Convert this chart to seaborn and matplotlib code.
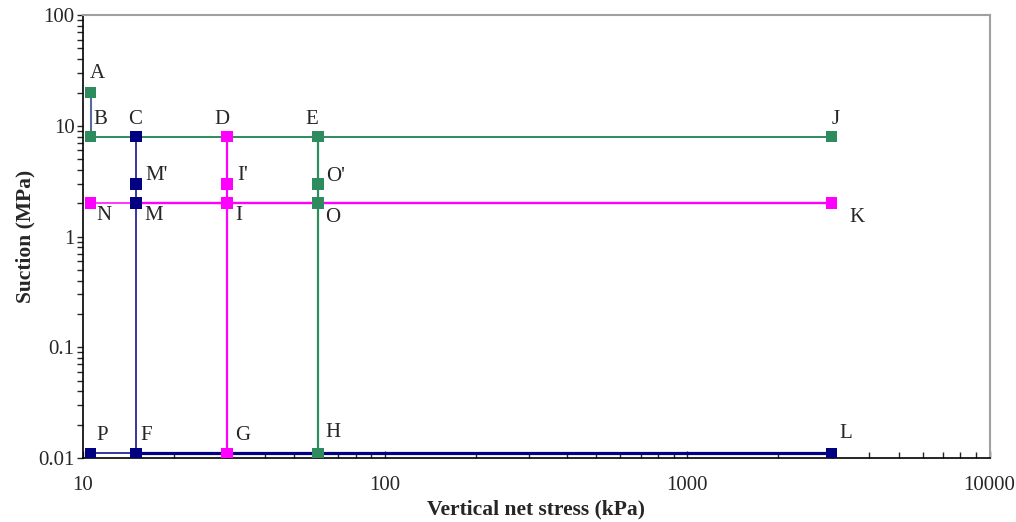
import numpy as np
import pandas as pd
import seaborn as sns
import matplotlib.pyplot as plt

# points (kPa, MPa)
names = ["A", "B", "C", "D", "E", "J", "M'", "M", "I'", "I", "O'", "O", "N", "K", "P", "F", "G", "H", "L"]
stress = [10.6, 10.6, 15, 30, 60, 3000, 15, 15, 30, 30, 60, 60, 10.6, 3000, 10.6, 15, 30, 60, 3000]
suction = [20, 8, 8, 8, 8, 8, 3, 2, 3, 2, 3, 2, 2, 2, 0.011, 0.011, 0.011, 0.011, 0.011]
point_group = ["g", "g", "n", "m", "g", "g", "n", "n", "m", "m", "g", "g", "m", "m", "n", "n", "m", "g", "n"]

# stress paths (point names joined by lines)
paths = [
    (["A", "B"], "s", 1.5),
    (["B", "C", "D", "E", "J"], "g", 1.4),
    (["C", "M'", "M", "F"], "n", 1.1),
    (["D", "I'", "I", "G"], "m", 1.6),
    (["E", "O'", "O", "H"], "g", 1.6),
    (["N", "M"], "m", 1.1),
    (["M", "I", "O", "K"], "m", 1.7),
    (["P", "F"], "n", 1.1),
    (["F", "G", "H", "L"], "n", 2.3),
]

colors = {"g": "#2e8b5e", "n": "#000080", "m": "#ff00ff", "s": "#5a6a9a"}

# label offsets in pixels
label_dx = [7, 10, -1, -5, -6, 4, 20, 17, 15, 12, 17, 15, 13, 25, 12, 10, 15, 15, 14]
label_dy = [19, 17, 17, 17, 17, 17, 8, -12, 8, -12, 7, -14, -12, -14, 18, 18, 18, 21, 20]

df = pd.DataFrame({"name": names, "x": stress, "y": suction, "grp": point_group})
pos = df.set_index("name")

sns.set_style("white")
plt.rcParams["font.family"] = ["Liberation Serif", "DejaVu Serif"]

fig, ax = plt.subplots(figsize=(10.16, 5.22), dpi=100)
fig.subplots_adjust(left=0.0817, right=0.974, top=0.971, bottom=0.1226)

for pts, c, lw in paths:
    seg = pos.loc[pts].reset_index()
    sns.lineplot(data=seg, x="x", y="y", sort=False, estimator=None, color=colors[c],
                 lw=lw, ax=ax, legend=False, zorder=2)

sns.scatterplot(data=df, x="x", y="y", hue="grp", palette=colors, marker="s",
                s=70, edgecolor="none", ax=ax, legend=False, zorder=3)

for i, row in df.iterrows():
    ax.annotate(row["name"], (row["x"], row["y"]), xytext=(label_dx[i], label_dy[i]),
                textcoords="offset pixels", ha="center", va="center", fontsize=15)

ax.set_xscale("log")
ax.set_yscale("log")
ax.set_xlim(10, 10000)
ax.set_ylim(0.01, 100)
ax.set_xticks([10, 100, 1000, 10000])
ax.set_xticklabels(["10", "100", "1000", "10000"])
ax.set_yticks([0.01, 0.1, 1, 10, 100])
ax.set_yticklabels(["0.01", "0.1", "1", "10", "100"])

ax.tick_params(axis="x", which="both", direction="in", length=5, width=1, labelsize=15, pad=13)
ax.tick_params(axis="y", which="both", direction="out", length=4, width=1, labelsize=15, pad=2)
ax.tick_params(axis="both", which="minor", length=4)
ax.yaxis.set_tick_params(which="both", left=True)
ax.xaxis.set_tick_params(which="both", bottom=True)

for s in ["left", "bottom"]:
    ax.spines[s].set_color("black")
    ax.spines[s].set_linewidth(1.2)
for s in ["top", "right"]:
    ax.spines[s].set_color("#a0a0a0")
    ax.spines[s].set_linewidth(1.5)

ax.set_xlabel("Vertical net stress (kPa)", fontsize=15.5, fontweight="bold", labelpad=3)
ax.set_ylabel("Suction (MPa)", fontsize=15.5, fontweight="bold", labelpad=2)

fig.savefig("out.png", dpi=100)
